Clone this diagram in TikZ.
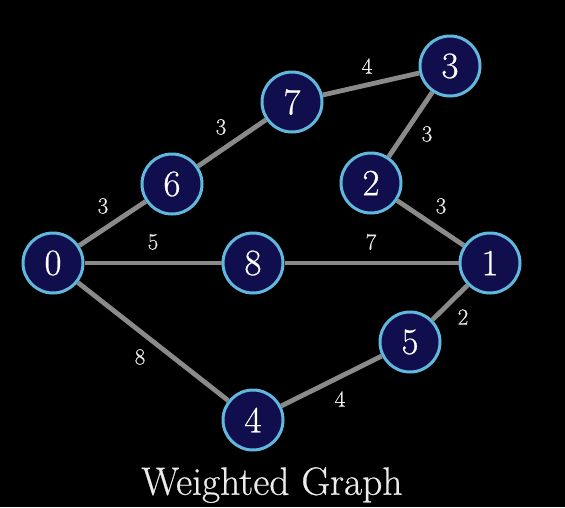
\documentclass[tikz,border=0pt]{standalone}
\usepackage{fontspec}
\setmainfont{Latin Modern Roman}[FakeBold=0.6]
\usepackage{xcolor}
\definecolor{nodefill}{HTML}{100E4C}
\definecolor{nodeline}{HTML}{62B8DC}
\definecolor{edgecol}{HTML}{8A8A8A}
\begin{document}
\begin{tikzpicture}[x=1pt,y=-1pt,
  vtx/.style={circle,draw=nodeline,fill=nodefill,line width=3pt,minimum size=60pt,inner sep=0pt,text=white,font=\fontsize{37}{40}\selectfont},
  edge/.style={draw=edgecol,line width=4.8pt},
  wlab/.style={text=white!92!black,font=\fontsize{23}{26}\selectfont,inner sep=0pt}]
\fill[black] (0,0) rectangle (565,507);
\useasboundingbox (0,0) rectangle (565,507);
\node[vtx] (n0) at (53,263) {0};
\node[vtx] (n6) at (172,184) {6};
\node[vtx] (n7) at (292,102) {7};
\node[vtx] (n3) at (450,66) {3};
\node[vtx] (n2) at (371,183) {2};
\node[vtx] (n8) at (253,263) {8};
\node[vtx] (n1) at (490,263) {1};
\node[vtx] (n5) at (410,342) {5};
\node[vtx] (n4) at (253,420) {4};
\draw[edge] (n0) -- (n6);
\draw[edge] (n6) -- (n7);
\draw[edge] (n7) -- (n3);
\draw[edge] (n3) -- (n2);
\draw[edge] (n2) -- (n1);
\draw[edge] (n0) -- (n8);
\draw[edge] (n8) -- (n1);
\draw[edge] (n1) -- (n5);
\draw[edge] (n0) -- (n4);
\draw[edge] (n4) -- (n5);
\node[wlab] (w06) at (103,206) {3};
\node[wlab] (w67) at (221,127) {3};
\node[wlab] (w73) at (367,66) {4};
\node[wlab] (w32) at (427,134) {3};
\node[wlab] (w21) at (441,206) {3};
\node[wlab] (w08) at (153,242) {5};
\node[wlab] (w81) at (371,242) {7};
\node[wlab] (w15) at (463,317) {2};
\node[wlab] (w04) at (140,357) {8};
\node[wlab] (w45) at (340,399) {4};
\node[text=white!92!black,font=\fontsize{39.5}{44}\selectfont,inner sep=0pt] (title) at (272,485) {Weighted Graph};
\end{tikzpicture}
\end{document}
